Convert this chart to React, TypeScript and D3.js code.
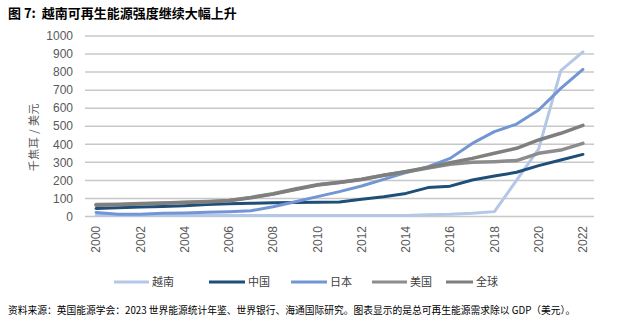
import React from "react";
import * as d3 from "d3";

const years = d3.range(2000, 2023).map(String);
const vietnam = [5, 5, 5, 5, 5, 5, 5, 5, 5, 5, 5, 5, 5, 5, 6, 10, 12, 18, 27, 200, 375, 808, 912];
const china = [45, 48, 52, 56, 60, 66, 70, 73, 76, 78, 79, 80, 95, 110, 128, 160, 168, 202, 224, 245, 282, 313, 344];
const japan = [22, 12, 12, 18, 20, 24, 27, 32, 54, 82, 110, 138, 169, 206, 243, 276, 322, 405, 470, 512, 590, 710, 815];
const usa = [66, 68, 72, 75, 79, 83, 89, 106, 126, 152, 176, 190, 206, 228, 246, 268, 290, 300, 304, 310, 350, 368, 405];
const world = [63, 65, 69, 73, 77, 81, 87, 104, 124, 150, 174, 188, 205, 229, 249, 272, 298, 322, 350, 378, 424, 461, 505];
const yTicks = [0, 100, 200, 300, 400, 500, 600, 700, 800, 900, 1000];
const xTicks = years.filter((_, i) => i % 2 === 0);

const seriesNames = ["越南", "中国", "日本", "美国", "全球"];
const seriesData = [vietnam, china, japan, usa, world];
const colors = ["#b4c7e7", "#1f4e79", "#7296d4", "#8c8c8c", "#7f7f7f"];

const title = "图 7:  越南可再生能源强度继续大幅上升";
const yLabel = "千焦耳 / 美元";
const footer = "资料来源：英国能源学会：2023 世界能源统计年鉴、世界银行、海通国际研究。图表显示的是总可再生能源需求除以 GDP（美元）。";

const legendX = [114, 209, 291, 372, 446];
const legendW = [35, 36, 36, 35, 27];

export default function App() {
  const x = d3.scalePoint<string>().domain(years).range([85, 594]).padding(0.5);
  const y = d3.scaleLinear().domain([0, 1000]).range([216.5, 36]);
  const line = d3
    .line<number>()
    .x((_, i) => x(years[i]) as number)
    .y((d) => y(d));
  const cjk = "'Noto Sans CJK SC', 'Noto Sans', sans-serif";
  return (
    <svg
      width={621}
      height={332}
      style={{ position: "absolute", left: 0, top: 0, background: "#fff" }}
    >
      <text x={8} y={18} fontFamily={cjk} fontWeight="bold" fontSize={13} fill="#000" style={{ whiteSpace: "pre" }}>
        {title}
      </text>
      {yTicks.map((t) => (
        <g key={t}>
          <line x1={85} x2={594} y1={y(t)} y2={y(t)} stroke="#c8c8c8" strokeWidth={1.5} />
          <text
            x={73}
            y={y(t)}
            dy="0.35em"
            textAnchor="end"
            fontFamily="'Liberation Sans', Arial, sans-serif"
            fontSize={12}
            fill="#595959"
          >
            {t}
          </text>
        </g>
      ))}
      {xTicks.map((t) => (
        <text
          key={t}
          transform={`translate(${x(t)},226) rotate(-90)`}
          textAnchor="end"
          dy="0.35em"
          fontFamily="'Liberation Sans', Arial, sans-serif"
          fontSize={12}
          fill="#595959"
        >
          {t}
        </text>
      ))}
      <text
        transform="translate(34,137) rotate(-90)"
        textAnchor="middle"
        dy="0.35em"
        fontFamily={cjk}
        fontSize={11}
        letterSpacing={0.5}
        fill="#595959"
      >
        {yLabel}
      </text>
      {seriesData.map((s, i) => (
        <path
          key={seriesNames[i]}
          d={line(s) || ""}
          fill="none"
          stroke={colors[i]}
          strokeWidth={i >= 3 ? 3.5 : 3}
          strokeLinejoin="round"
          strokeLinecap="round"
        />
      ))}
      {seriesNames.map((n, i) => (
        <g key={n}>
          <line
            x1={legendX[i]}
            x2={legendX[i] + legendW[i]}
            y1={282}
            y2={282}
            stroke={colors[i]}
            strokeWidth={3}
          />
          <text
            x={legendX[i] + legendW[i] + 3}
            y={282}
            dy="0.35em"
            fontFamily={cjk}
            fontSize={11}
            fill="#404040"
          >
            {n}
          </text>
        </g>
      ))}
      <text x={8} y={314} fontFamily={cjk} fontSize={9.75} fill="#000">
        {footer}
      </text>
    </svg>
  );
}
